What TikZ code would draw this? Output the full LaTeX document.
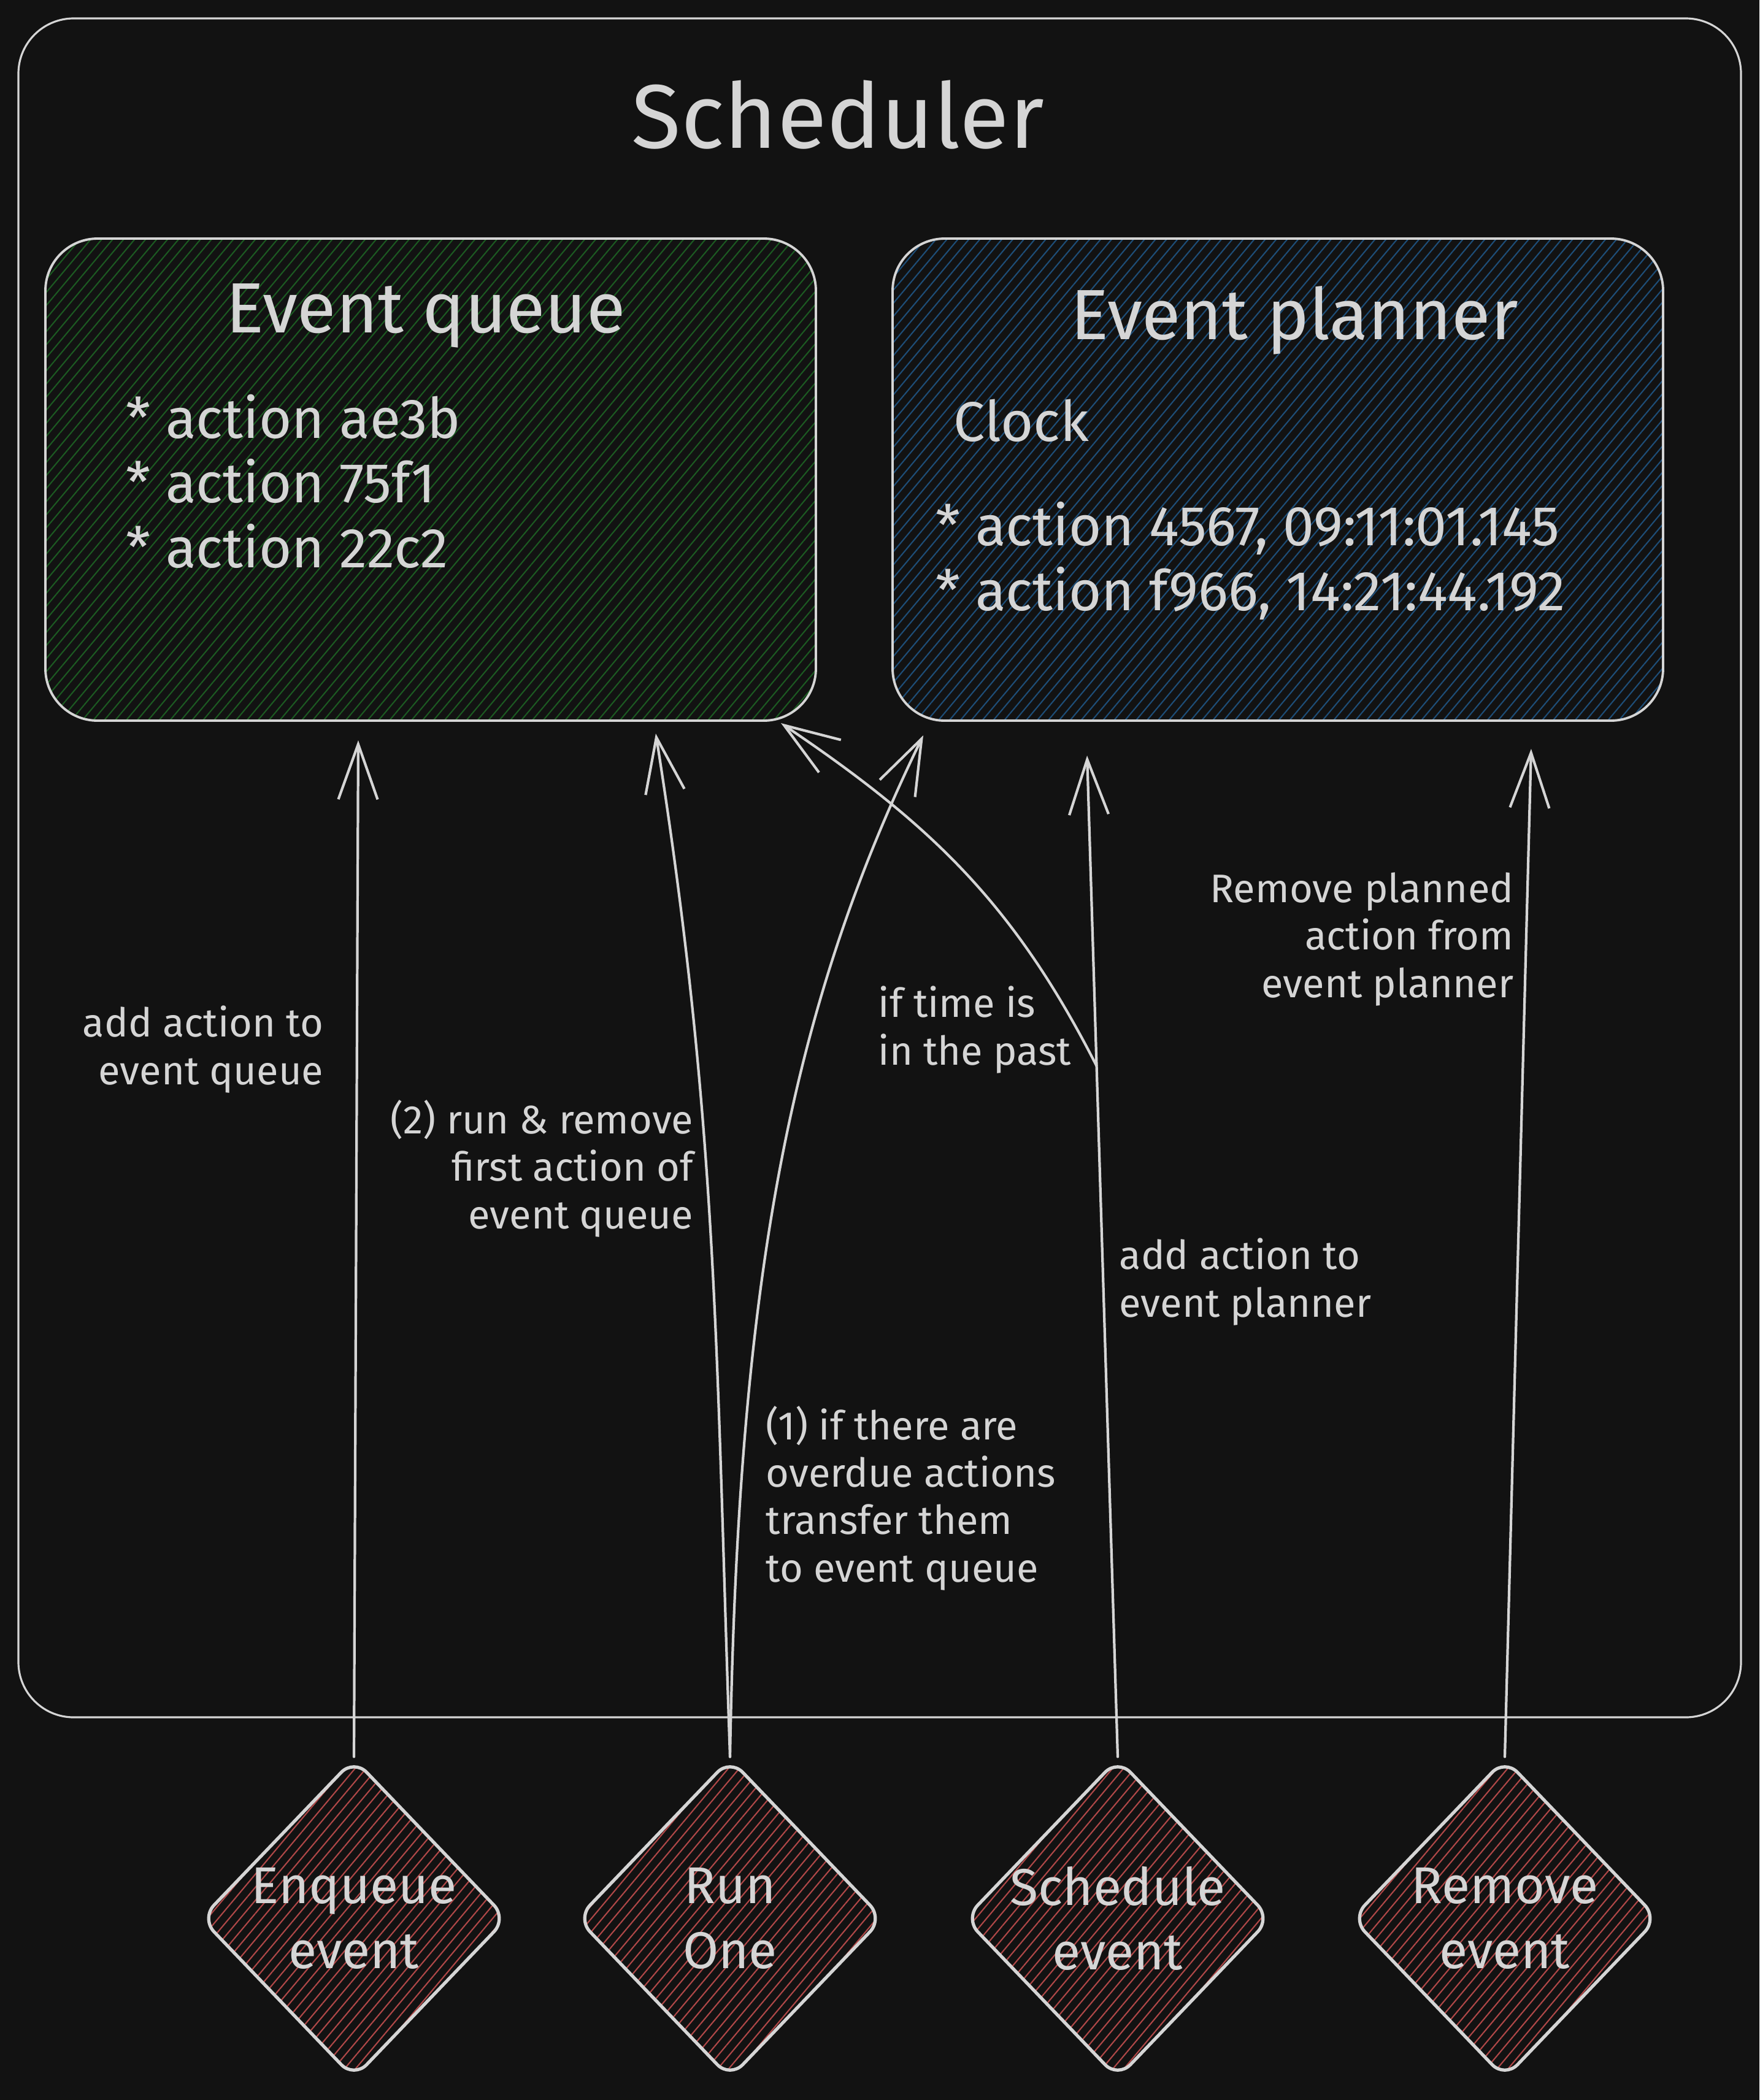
\documentclass[tikz,border=0pt]{standalone}
\usepackage{fontspec}
\setmainfont{Fira Sans}
\usetikzlibrary{arrows.meta, shapes.geometric, patterns.meta, positioning}

\definecolor{chalk}{HTML}{D5D5D5}
\definecolor{slate}{HTML}{121212}
\definecolor{queuegreen}{HTML}{1C5A22}
\definecolor{plannerblue}{HTML}{1E4E78}
\definecolor{triggerred}{HTML}{B04848}

\begin{document}
\begin{tikzpicture}[>={Straight Barb[length=0.9cm, width=0.64cm]}, line cap=round, line join=round]
  \tikzstyle{panel}=[rectangle, rounded corners=0.85cm, draw=chalk, line width=1.1pt, minimum width=12.56cm, minimum height=7.86cm, pattern={Lines[angle=50, distance=3.9pt, line width=0.6pt]}]
  \tikzstyle{trigger}=[diamond, rounded corners=0.3cm, draw=chalk, line width=1.5pt, minimum width=5.0cm, minimum height=5.22cm, inner sep=0pt, pattern={Lines[angle=50, distance=3.9pt, line width=0.6pt]}, pattern color=triggerred]
  \tikzstyle{flow}=[->, draw=chalk, line width=1.2pt]
  \tikzstyle{note}=[text=chalk, inner sep=0pt, font=\fontsize{18.5}{22}\selectfont]
  \tikzstyle{entry}=[text=chalk, inner sep=0pt, align=left, font=\fontsize{26}{30}\selectfont]
  \tikzstyle{heading}=[text=chalk, inner sep=0pt, font=\fontsize{33}{40}\selectfont]
  \tikzstyle{tag}=[text=chalk, inner sep=0pt, align=center, font=\fontsize{24}{30}\selectfont]

  \fill[slate] (0,0) rectangle (28.68,-34.24);

  % scheduler frame
  \node[draw=chalk, line width=0.9pt, rounded corners=0.9cm, minimum width=28.08cm, minimum height=27.70cm] at (14.34,-14.15) (scheduler) {};
  \node[heading, font=\fontsize{42}{48}\selectfont, anchor=base] at (13.66,-2.42) (title) {Scheduler};

  % the two stores
  \node[panel, pattern color=queuegreen] at (7.02,-7.82) (queue) {};
  \node[panel, pattern color=plannerblue] at (20.83,-7.82) (planner) {};

  \node[heading, anchor=base] at (6.94,-5.42) (queuetitle) {Event queue};
  \node[entry, anchor=base west] at (2.05,-9.25) (queueitems) {* action ae3b\\* action 75f1\\* action 22c2};

  \node[heading, anchor=base] at (21.10,-5.53) (plannertitle) {Event planner};
  \node[entry, anchor=base west] at (15.54,-7.19) (clock) {Clock};
  \node[entry, anchor=base west] at (15.25,-9.95) (planitems) {* action 4567, 09:11:01.145\\* action f966, 14:21:44.192};

  % triggers
  \node[trigger] at (5.77,-31.28) (enq) {};
  \node[trigger] at (11.90,-31.28) (run) {};
  \node[trigger] at (18.22,-31.28) (schedule) {};
  \node[trigger] at (24.53,-31.28) (remove) {};

  \node[tag] at (enq) (enqtag) {Enqueue\\event};
  \node[tag] at (run) (runtag) {Run\\One};
  \node[tag] at (schedule) (scheduletag) {Schedule\\event};
  \node[tag] at (remove) (removetag) {Remove\\event};

  % connectors
  \draw[flow] (enq.north) -- ([xshift=5.11cm, yshift=-0.31cm]queue.south west);
  \draw[flow] (run.north) to[out=92, in=-81] ([xshift=9.96cm, yshift=-0.20cm]queue.south west);
  \draw[flow] (run.north) .. controls +(89:7.7) and +(-116:5) .. ([xshift=0.52cm, yshift=-0.22cm]planner.south west);
  \draw[flow] (schedule.north) -- coordinate[pos=0.69] (past) ([xshift=3.19cm, yshift=-0.55cm]planner.south west);
  \draw[flow] (past) to[out=117, in=-34] ([xshift=-0.58cm, yshift=-0.03cm]queue.south east);
  \draw[flow] (remove.north) -- ([xshift=-2.17cm, yshift=-0.44cm]planner.south east);

  % connector notes
  \node[note, anchor=base east, align=right] at (5.28,-17.68) (enqnote) {add action to\\event queue};
  \node[note, anchor=base east, align=right] at (11.31,-20.03) (runnote) {(2) run \& remove\\first action of\\event queue};
  \node[note, anchor=base west, align=left] at (12.48,-25.79) (transfernote) {(1) if there are\\overdue actions\\transfer them\\to event queue};
  \node[note, anchor=base west, align=left] at (14.31,-17.36) (pastnote) {if time is\\in the past};
  \node[note, anchor=base east, align=right] at (24.68,-16.26) (removenote) {Remove planned\\action from\\event planner};
  \node[note, anchor=base west, align=left] at (18.24,-21.47) (schednote) {add action to\\event planner};
\end{tikzpicture}
\end{document}
